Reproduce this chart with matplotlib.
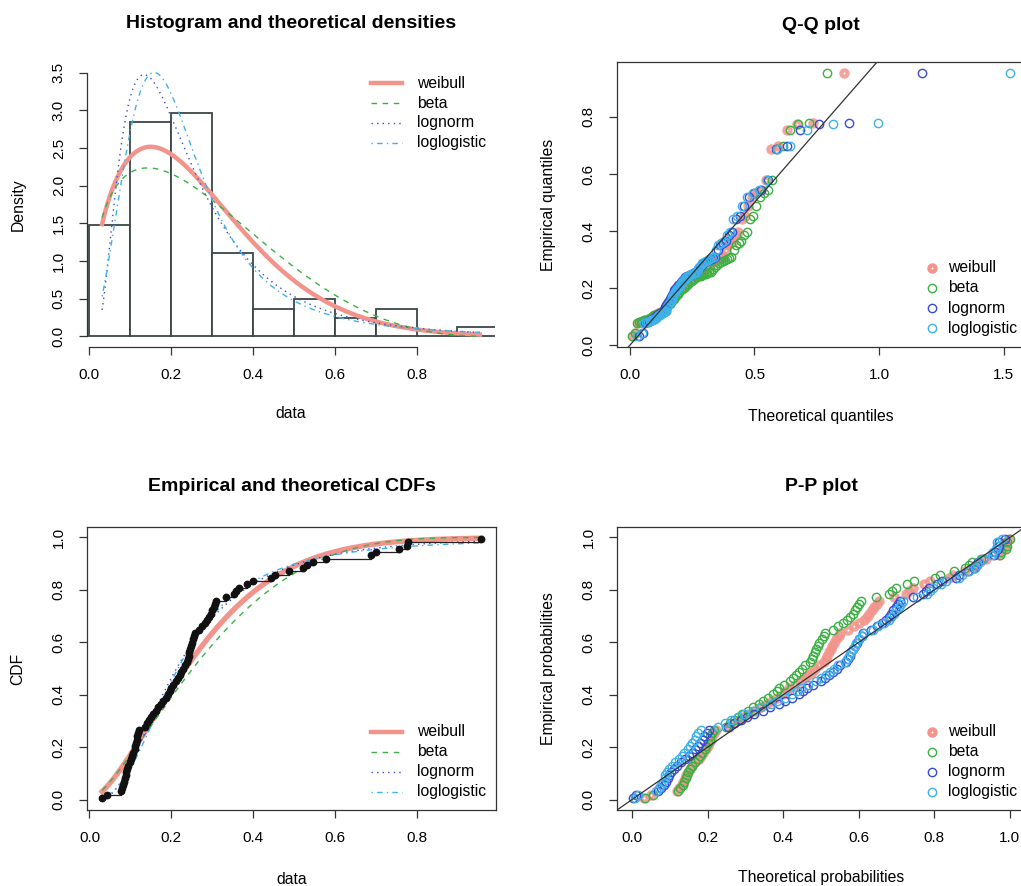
import math
import numpy as np
import matplotlib
matplotlib.use("Agg")
import matplotlib.pyplot as plt
from matplotlib.lines import Line2D
from matplotlib.transforms import Affine2D

plt.rcParams['font.family'] = ['Liberation Sans', 'DejaVu Sans']

# observed sample (read from the empirical CDF / histogram)
data = [0.031, 0.043, 0.077, 0.080, 0.083, 0.085, 0.087, 0.088, 0.090, 0.092, 0.095, 0.098,
        0.102, 0.105, 0.107, 0.110, 0.112, 0.114, 0.116, 0.117, 0.119, 0.121,
        0.135, 0.140, 0.145, 0.150, 0.155, 0.162, 0.168, 0.175, 0.180, 0.186, 0.192, 0.196, 0.199,
        0.205, 0.212, 0.216, 0.220, 0.224, 0.228, 0.232,
        0.238, 0.240, 0.242, 0.244, 0.246, 0.248, 0.250, 0.253, 0.256, 0.258,
        0.268, 0.275, 0.282, 0.288, 0.292, 0.296, 0.299,
        0.303, 0.306, 0.309, 0.332, 0.352, 0.358, 0.365, 0.385, 0.398,
        0.442, 0.452, 0.487,
        0.520, 0.532, 0.545, 0.578,
        0.686, 0.698,
        0.755, 0.775, 0.778,
        0.955]

# fitted distributions and their parameters
dist_names = ['weibull', 'beta', 'lognorm', 'loglogistic']
weibull_shape, weibull_scale = 1.533, 0.298
beta_shape1, beta_shape2 = 1.444, 3.675
lognorm_meanlog, lognorm_sdlog = -1.549, 0.682
llogis_shape, llogis_scale = 2.60, 0.216

hist_breaks = [0.0, 0.1, 0.2, 0.3, 0.4, 0.5, 0.6, 0.7, 0.8, 0.9, 1.0]
hist_xticks = [0.0, 0.2, 0.4, 0.6, 0.8]
hist_yticks = [0.0, 0.5, 1.0, 1.5, 2.0, 2.5, 3.0, 3.5]
qq_xticks = [0.0, 0.5, 1.0, 1.5]
qq_yticks = [0.0, 0.2, 0.4, 0.6, 0.8]
prob_ticks = [0.0, 0.2, 0.4, 0.6, 0.8, 1.0]

x = np.sort(np.array(data))
n = len(x)

erf = np.vectorize(math.erf)
lbeta = math.lgamma(beta_shape1) + math.lgamma(beta_shape2) - math.lgamma(beta_shape1 + beta_shape2)


def pdf(name, t):
    if name == 'weibull':
        k, l = weibull_shape, weibull_scale
        return k / l * (t / l) ** (k - 1) * np.exp(-(t / l) ** k)
    if name == 'beta':
        return np.exp((beta_shape1 - 1) * np.log(t) + (beta_shape2 - 1) * np.log1p(-t) - lbeta)
    if name == 'lognorm':
        m, s = lognorm_meanlog, lognorm_sdlog
        return np.exp(-(np.log(t) - m) ** 2 / (2 * s ** 2)) / (t * s * math.sqrt(2 * math.pi))
    a, s = llogis_shape, llogis_scale
    z = (t / s) ** a
    return a / t * z / (1 + z) ** 2


bgrid = np.linspace(1e-7, 1 - 1e-7, 200001)
bpdf = pdf('beta', bgrid)
bcdf = np.concatenate([[0], np.cumsum((bpdf[1:] + bpdf[:-1]) / 2 * np.diff(bgrid))])
bcdf /= bcdf[-1]


def cdf(name, t):
    if name == 'weibull':
        return 1 - np.exp(-(t / weibull_scale) ** weibull_shape)
    if name == 'beta':
        return np.interp(t, bgrid, bcdf)
    if name == 'lognorm':
        return 0.5 * (1 + erf((np.log(t) - lognorm_meanlog) / (lognorm_sdlog * math.sqrt(2))))
    return 1 / (1 + (t / llogis_scale) ** (-llogis_shape))


lgrid = np.linspace(1e-6, 6, 400001)
lcdf = cdf('lognorm', lgrid)


def qf(name, p):
    if name == 'weibull':
        return weibull_scale * (-np.log1p(-p)) ** (1 / weibull_shape)
    if name == 'beta':
        return np.interp(p, bcdf, bgrid)
    if name == 'lognorm':
        return np.interp(p, lcdf, lgrid)
    return llogis_scale * (p / (1 - p)) ** (1 / llogis_shape)


colors = ['#F2948C', '#3CB043', '#3A4BD6', '#3DB2E8']
styles = ['-', (0, (4, 4)), (0, (1, 3)), (0, (1, 3, 4, 3))]
widths = [3.2, 1.0, 1.0, 1.0]

W, H = 1021, 886
fig = plt.figure(figsize=(W / 100, H / 100), dpi=100)
pix = Affine2D().scale(1 / W, -1 / H).translate(0, 1) + fig.transFigure


def px_axes(left, top, right, bottom):
    return fig.add_axes([left / W, 1 - bottom / H, (right - left) / W, (bottom - top) / H])


TICK = 11
LAB = 11.3
edge = '#333333'


def style_axes(ax, box=True):
    ax.tick_params(direction='out', length=5.8, width=0.9, pad=9.5, labelsize=TICK, color=edge)
    ax.tick_params(axis='y', labelrotation=90)
    for lab in ax.get_yticklabels():
        lab.set_va('center')
    for s in ax.spines.values():
        s.set_color(edge)
        s.set_linewidth(0.9)
    if not box:
        ax.spines['top'].set_visible(False)
        ax.spines['right'].set_visible(False)


def fmt(ticks, d=1):
    return [f'{t:.{d}f}' for t in ticks]


def legend_lines(x0, y0):
    for i, nm in enumerate(dist_names):
        fig.add_artist(Line2D([x0, x0 + 31], [y0 + 20 * i] * 2, transform=pix, color=colors[i],
                              linestyle=styles[i], linewidth=widths[i]))
        fig.text(x0 + 46, y0 + 20 * i, nm, transform=pix, va='center', ha='left', fontsize=LAB)


def legend_points(x0, y0):
    for i, nm in enumerate(dist_names):
        mew = 3.0 if i == 0 else 1.0
        ms = 4.5 if i == 0 else 6
        fig.add_artist(Line2D([x0], [y0 + 20 * i], transform=pix, marker='o', mfc='none',
                              mec=colors[i], mew=mew, ms=ms, linestyle='none'))
        fig.text(x0 + 16, y0 + 20 * i, nm, transform=pix, va='center', ha='left', fontsize=LAB)


def titles(cx, ty, title, xl, xly, yl, ylx, cy):
    fig.text(cx, ty, title, transform=pix, ha='center', va='center', fontsize=14, fontweight='bold')
    fig.text(cx, xly, xl, transform=pix, ha='center', va='center', fontsize=LAB)
    fig.text(ylx, cy, yl, transform=pix, ha='center', va='center', fontsize=LAB, rotation=90)


xs = np.linspace(x.min(), x.max(), 201)
pp = (np.arange(1, n + 1) - 0.5) / n
dx = 0.04 * (x.max() - x.min())

# ---------- Histogram ----------
ax1 = px_axes(87, 62, 495, 347)
ax1.hist(x, bins=hist_breaks, density=True, facecolor='white', edgecolor='#3a4646', linewidth=1.3)
dens = [pdf(nm, xs) for nm in dist_names]
for i, nm in enumerate(dist_names):
    ax1.plot(xs, dens[i], color=colors[i], linestyle=styles[i], linewidth=widths[i])
ymax = max(d.max() for d in dens)
ax1.set_xlim(x.min() - dx, x.max() + dx)
ax1.set_ylim(-0.04 * ymax, 1.04 * ymax)
ax1.set_xticks(hist_xticks); ax1.set_xticklabels(fmt(hist_xticks))
ax1.set_yticks(hist_yticks); ax1.set_yticklabels(fmt(hist_yticks))
ax1.spines['bottom'].set_bounds(hist_xticks[0], hist_xticks[-1])
ax1.spines['left'].set_bounds(hist_yticks[0], hist_yticks[-1])
style_axes(ax1, box=False)
titles(291, 24, 'Histogram and theoretical densities', 'data', 414, 'Density', 18, 204.5)
legend_lines(371, 83)

# ---------- Q-Q ----------
ax2 = px_axes(617, 62, 1025, 347)
qs = [qf(nm, pp) for nm in dist_names]
for i, nm in enumerate(dist_names):
    if i == 0:
        ax2.plot(qs[i], x, 'o', mfc='none', mec=colors[i], mew=3.0, ms=4.5, alpha=0.85)
    else:
        ax2.plot(qs[i], x, 'o', mfc='none', mec=colors[i], mew=1.0, ms=6)
ax2.axline((0, 0), slope=1, color=edge, linewidth=0.9)
qall = np.concatenate(qs)
qr = qall.max() - qall.min()
ax2.set_xlim(qall.min() - 0.04 * qr, qall.max() + 0.04 * qr)
ax2.set_ylim(x.min() - dx, x.max() + dx)
ax2.set_xticks(qq_xticks); ax2.set_xticklabels(fmt(qq_xticks))
ax2.set_yticks(qq_yticks); ax2.set_yticklabels(fmt(qq_yticks))
style_axes(ax2)
titles(821, 25, 'Q-Q plot', 'Theoretical quantiles', 417, 'Empirical quantiles', 548, 204.5)
legend_points(932, 268)

# ---------- CDF ----------
ax3 = px_axes(87, 527, 496, 810)
for i, nm in enumerate(dist_names):
    ax3.plot(xs, cdf(nm, xs), color=colors[i], linestyle=styles[i],
             linewidth=widths[i] + (0.6 if i == 0 else 0))
ax3.step(x, pp, where='post', color='#222222', linewidth=0.9)
ax3.plot(x, pp, 'o', color='#111111', ms=4.6)
ax3.set_xlim(x.min() - dx, x.max() + dx)
ax3.set_ylim(-0.04, 1.04)
ax3.set_xticks(hist_xticks); ax3.set_xticklabels(fmt(hist_xticks))
ax3.set_yticks(prob_ticks); ax3.set_yticklabels(fmt(prob_ticks))
style_axes(ax3)
titles(291.5, 487, 'Empirical and theoretical CDFs', 'data', 880, 'CDF', 18, 668.5)
legend_lines(371, 732)

# ---------- P-P ----------
ax4 = px_axes(617, 527, 1025, 810)
for i, nm in enumerate(dist_names):
    ps = cdf(nm, x)
    if i == 0:
        ax4.plot(ps, pp, 'o', mfc='none', mec=colors[i], mew=3.0, ms=4.5, alpha=0.85)
    else:
        ax4.plot(ps, pp, 'o', mfc='none', mec=colors[i], mew=1.0, ms=6)
ax4.axline((0, 0), slope=1, color=edge, linewidth=0.9)
ax4.set_xlim(-0.04, 1.04)
ax4.set_ylim(-0.04, 1.04)
ax4.set_xticks(prob_ticks); ax4.set_xticklabels(fmt(prob_ticks))
ax4.set_yticks(prob_ticks); ax4.set_yticklabels(fmt(prob_ticks))
style_axes(ax4)
titles(821, 487, 'P-P plot', 'Theoretical probabilities', 878, 'Empirical probabilities', 548, 668.5)
legend_points(932, 732)

fig.savefig('out.png', dpi=100)
